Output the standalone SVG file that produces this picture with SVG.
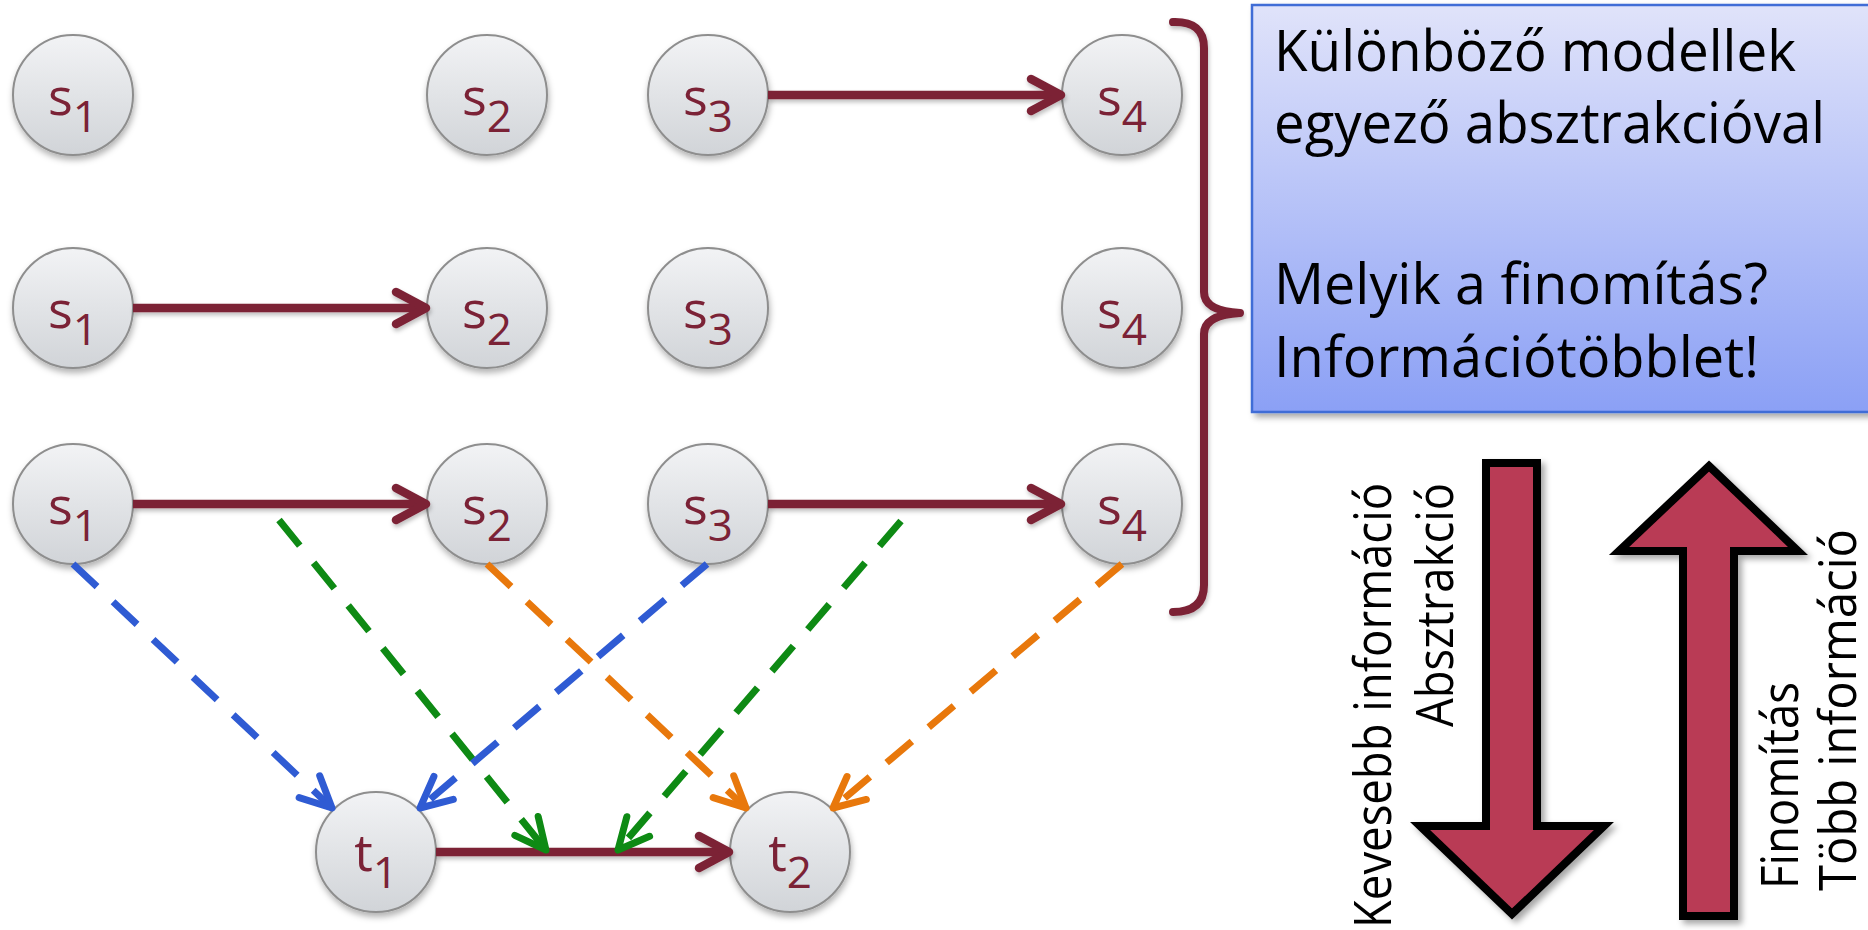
<svg xmlns="http://www.w3.org/2000/svg" width="1868" height="930" viewBox="0 0 1868 930">
<style>
.node ellipse{fill:url(#ng);stroke:#8E8E8E;stroke-width:2;filter:url(#sh)}
.lbl{font-family:"Open Sans","Noto Sans",sans-serif;font-size:52px;fill:#7B2236;text-anchor:middle}
.sub{font-size:44px}
.solid{stroke:#7B2236;stroke-width:8.5;fill:none;marker-end:url(#mM)}
.dash{stroke-width:7;fill:none;stroke-dasharray:33 22}
.blue{stroke:#2F5BD3;marker-end:url(#mB)}
.green{stroke:#0E8A14;marker-end:url(#mG)}
.orange{stroke:#E8780C;marker-end:url(#mO)}
.box{font-family:"Open Sans","Noto Sans",sans-serif;font-size:56px;fill:#000}
.vt{font-family:"Open Sans","Noto Sans",sans-serif;font-size:52px;fill:#000}
.big{fill:#B93A55;stroke:#000;stroke-width:8;stroke-linejoin:miter;filter:url(#sh2)}
</style>
<defs>
<linearGradient id="ng" x1="0" y1="0" x2="0" y2="1">
<stop offset="0" stop-color="#F2F3F5"/><stop offset="1" stop-color="#D1D4D8"/>
</linearGradient>
<linearGradient id="bg" x1="0" y1="0" x2="0" y2="1">
<stop offset="0" stop-color="#E0E3FA"/><stop offset="1" stop-color="#8BA0F5"/>
</linearGradient>
<filter id="sh" x="-30%" y="-30%" width="160%" height="170%">
<feDropShadow dx="1" dy="4" stdDeviation="3" flood-color="#000" flood-opacity="0.3"/>
</filter>
<filter id="sh2" x="-20%" y="-10%" width="150%" height="130%">
<feDropShadow dx="4" dy="4" stdDeviation="3" flood-color="#000" flood-opacity="0.35"/>
</filter>
<filter id="sh3" x="-10%" y="-50%" width="120%" height="200%">
<feDropShadow dx="1" dy="3" stdDeviation="2" flood-color="#000" flood-opacity="0.25"/>
</filter>
<marker id="mM" markerUnits="userSpaceOnUse" markerWidth="40" markerHeight="40" refX="0" refY="0" orient="auto" overflow="visible">
<path d="M-30,-16 L0,0 L-30,16" fill="none" stroke="#7B2236" stroke-width="8.5" stroke-linecap="round" stroke-linejoin="round"/>
</marker>
<marker id="mB" markerUnits="userSpaceOnUse" markerWidth="40" markerHeight="40" refX="0" refY="0" orient="auto" overflow="visible">
<path d="M-31,-15 L0,0 L-31,15" fill="none" stroke="#2F5BD3" stroke-width="7" stroke-linecap="round" stroke-linejoin="round"/>
</marker>
<marker id="mG" markerUnits="userSpaceOnUse" markerWidth="40" markerHeight="40" refX="0" refY="0" orient="auto" overflow="visible">
<path d="M-31,-15 L0,0 L-31,15" fill="none" stroke="#0E8A14" stroke-width="7" stroke-linecap="round" stroke-linejoin="round"/>
</marker>
<marker id="mO" markerUnits="userSpaceOnUse" markerWidth="40" markerHeight="40" refX="0" refY="0" orient="auto" overflow="visible">
<path d="M-31,-15 L0,0 L-31,15" fill="none" stroke="#E8780C" stroke-width="7" stroke-linecap="round" stroke-linejoin="round"/>
</marker>
</defs>
<rect width="1868" height="930" fill="#fff"/>

<g id="info-box">
<rect x="1252" y="5" width="640" height="407" fill="url(#bg)" stroke="#3F6DD6" stroke-width="2.5" filter="url(#sh2)"/>
<text class="box" x="1274" y="71" textLength="522" lengthAdjust="spacingAndGlyphs">Különböző modellek</text>
<text class="box" x="1274" y="143" textLength="551" lengthAdjust="spacingAndGlyphs">egyező absztrakcióval</text>
<text class="box" x="1274" y="304" textLength="494" lengthAdjust="spacingAndGlyphs">Melyik a finomítás?</text>
<text class="box" x="1274" y="377" textLength="485" lengthAdjust="spacingAndGlyphs">Információtöbblet!</text>
</g>

<g id="brace">
<path d="M1173,22 Q1204,21 1204,48 L1204,292 Q1204,311 1240,313 Q1204,315 1204,334 L1204,585 Q1204,612 1173,612" fill="none" stroke="#7B2236" stroke-width="8" stroke-linecap="round" stroke-linejoin="round" filter="url(#sh3)"/>
</g>

<g id="nodes">
<g id="r1s1" class="node"><ellipse cx="73" cy="95" rx="60" ry="60"/><text class="lbl" x="73" y="115">s<tspan class="sub" dy="17">1</tspan></text></g>
<g id="r1s2" class="node"><ellipse cx="487" cy="95" rx="60" ry="60"/><text class="lbl" x="487" y="115">s<tspan class="sub" dy="17">2</tspan></text></g>
<g id="r1s3" class="node"><ellipse cx="708" cy="95" rx="60" ry="60"/><text class="lbl" x="708" y="115">s<tspan class="sub" dy="17">3</tspan></text></g>
<g id="r1s4" class="node"><ellipse cx="1122" cy="95" rx="60" ry="60"/><text class="lbl" x="1122" y="115">s<tspan class="sub" dy="17">4</tspan></text></g>

<g id="r2s1" class="node"><ellipse cx="73" cy="308" rx="60" ry="60"/><text class="lbl" x="73" y="328">s<tspan class="sub" dy="17">1</tspan></text></g>
<g id="r2s2" class="node"><ellipse cx="487" cy="308" rx="60" ry="60"/><text class="lbl" x="487" y="328">s<tspan class="sub" dy="17">2</tspan></text></g>
<g id="r2s3" class="node"><ellipse cx="708" cy="308" rx="60" ry="60"/><text class="lbl" x="708" y="328">s<tspan class="sub" dy="17">3</tspan></text></g>
<g id="r2s4" class="node"><ellipse cx="1122" cy="308" rx="60" ry="60"/><text class="lbl" x="1122" y="328">s<tspan class="sub" dy="17">4</tspan></text></g>

<g id="r3s1" class="node"><ellipse cx="73" cy="504" rx="60" ry="60"/><text class="lbl" x="73" y="524">s<tspan class="sub" dy="17">1</tspan></text></g>
<g id="r3s2" class="node"><ellipse cx="487" cy="504" rx="60" ry="60"/><text class="lbl" x="487" y="524">s<tspan class="sub" dy="17">2</tspan></text></g>
<g id="r3s3" class="node"><ellipse cx="708" cy="504" rx="60" ry="60"/><text class="lbl" x="708" y="524">s<tspan class="sub" dy="17">3</tspan></text></g>
<g id="r3s4" class="node"><ellipse cx="1122" cy="504" rx="60" ry="60"/><text class="lbl" x="1122" y="524">s<tspan class="sub" dy="17">4</tspan></text></g>

<g id="t1" class="node"><ellipse cx="376" cy="852" rx="60" ry="60"/><text class="lbl" x="376" y="871">t<tspan class="sub" dy="17">1</tspan></text></g>
<g id="t2" class="node"><ellipse cx="790" cy="852" rx="60" ry="60"/><text class="lbl" x="790" y="871">t<tspan class="sub" dy="17">2</tspan></text></g>
</g>

<g id="connectors">
<g filter="url(#sh3)">
<line class="solid" x1="768" y1="95" x2="1061" y2="95"/>
<line class="solid" x1="133" y1="308" x2="426" y2="308"/>
<line class="solid" x1="133" y1="504" x2="426" y2="504"/>
<line class="solid" x1="768" y1="504" x2="1061" y2="504"/>
<line class="solid" x1="436" y1="852" x2="729" y2="852"/>
</g>
<line class="dash blue" x1="73" y1="564" x2="332" y2="808"/>
<line class="dash green" x1="279" y1="520" x2="546" y2="850"/>
<line class="dash orange" x1="487" y1="564" x2="746" y2="808"/>
<line class="dash blue" x1="707" y1="564" x2="420" y2="808"/>
<line class="dash green" x1="901" y1="521" x2="618" y2="850"/>
<line class="dash orange" x1="1122" y1="564" x2="833" y2="808"/>
</g>

<g id="abstraction-arrow">
<path class="big" d="M1486,463 L1537,463 L1537,826 L1604,826 L1512,914 L1420,826 L1486,826 Z"/>
<text class="vt" transform="translate(1391,928) rotate(-90)" textLength="445" lengthAdjust="spacingAndGlyphs">Kevesebb információ</text>
<text class="vt" transform="translate(1453,727) rotate(-90)" textLength="244" lengthAdjust="spacingAndGlyphs">Absztrakció</text>
</g>

<g id="refinement-arrow">
<path class="big" d="M1709,466 L1798,551 L1734,551 L1734,916 L1683,916 L1683,551 L1619,551 Z"/>
<text class="vt" transform="translate(1798,889) rotate(-90)" textLength="207" lengthAdjust="spacingAndGlyphs">Finomítás</text>
<text class="vt" transform="translate(1856,891) rotate(-90)" textLength="362" lengthAdjust="spacingAndGlyphs">Több információ</text>
</g>
</svg>
